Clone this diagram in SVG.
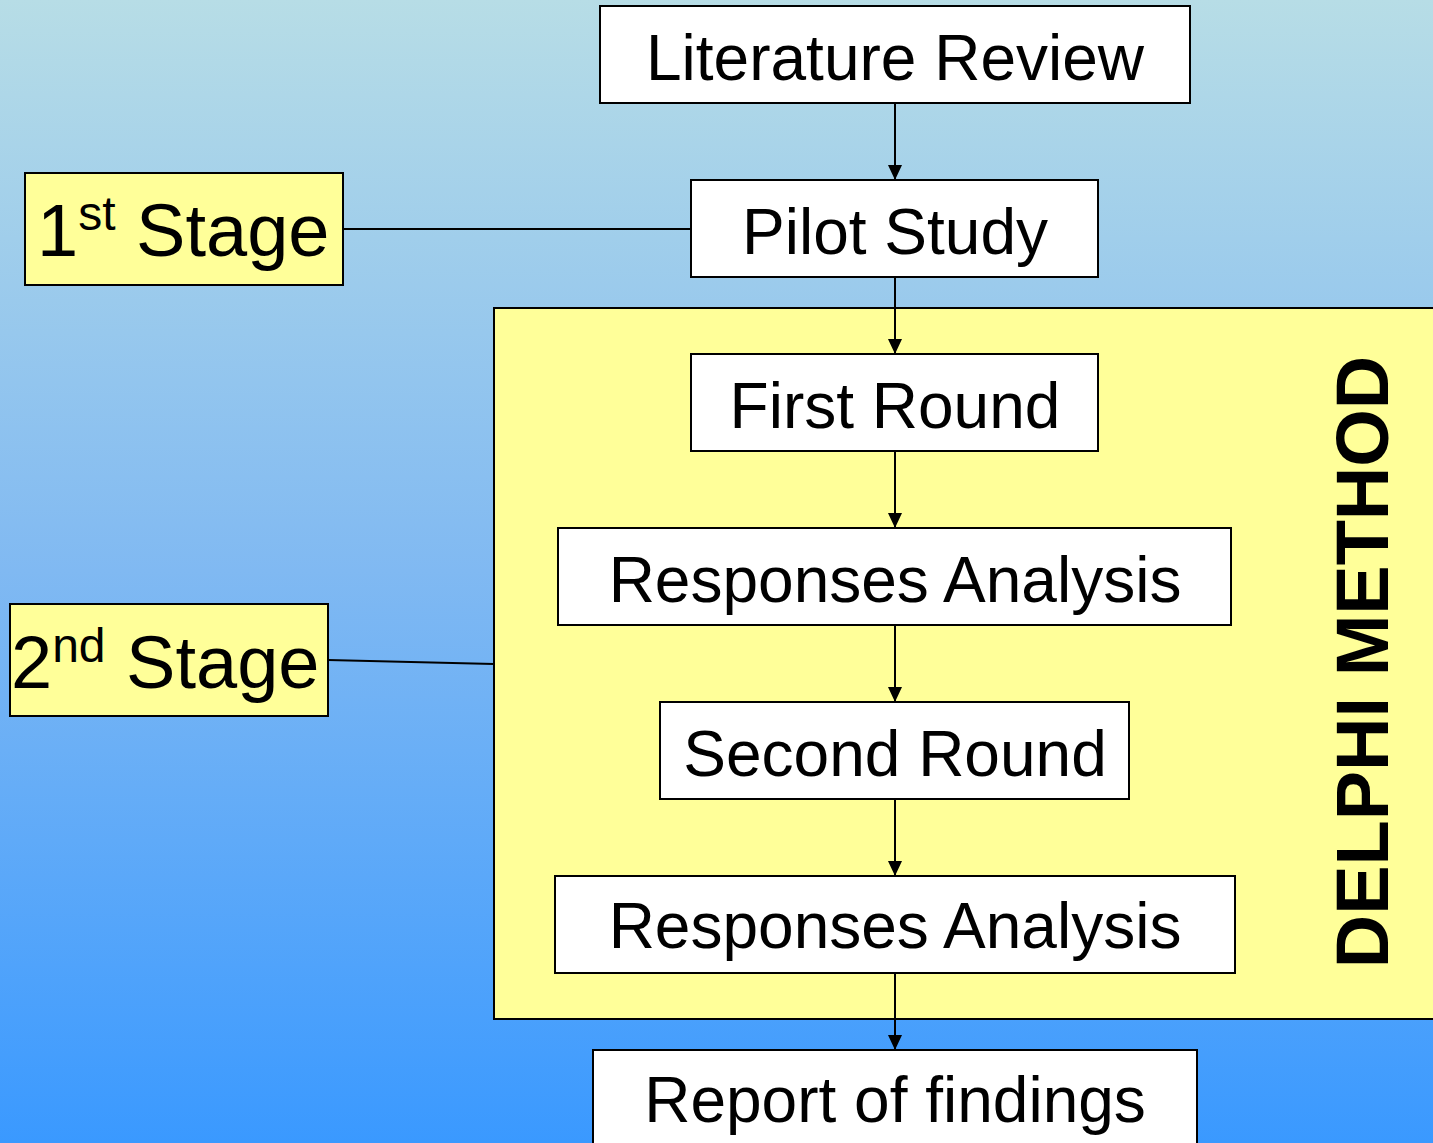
<svg xmlns="http://www.w3.org/2000/svg" width="1433" height="1143" viewBox="0 0 1433 1143">
<defs>
<linearGradient id="bg" x1="0" y1="0" x2="0" y2="1">
<stop offset="0" stop-color="#b7dde6"/>
<stop offset="0.5" stop-color="#80b9f2"/>
<stop offset="1" stop-color="#3a99ff"/>
</linearGradient>
<marker id="ah" viewBox="0 0 15 14" refX="15" refY="7" markerWidth="15" markerHeight="14" markerUnits="userSpaceOnUse" orient="auto">
<path d="M0,0 L15,7 L0,14 Z" fill="#000"/>
</marker>
<style>
.box{fill:#fff;stroke:#000;stroke-width:2}
.ybox{fill:#ffff99;stroke:#000;stroke-width:2}
.t{font-family:"Liberation Sans",Arial,sans-serif;font-size:64px;fill:#000;text-anchor:middle}
.st{font-family:"Liberation Sans",Arial,sans-serif;font-size:74px;fill:#000}
.c{stroke:#000;stroke-width:2;fill:none}
</style>
</defs>
<rect width="1433" height="1143" fill="url(#bg)"/>
<g id="delphi">
<rect class="ybox" x="494" y="308" width="945" height="711"/>
<text transform="translate(1388,662) rotate(-90)" font-family="Liberation Sans,Arial,sans-serif" font-weight="bold" font-size="74" text-anchor="middle">DELPHI METHOD</text>
</g>
<g id="connectors">
<line class="c" x1="895" y1="103" x2="895" y2="180" marker-end="url(#ah)"/>
<line class="c" x1="895" y1="277" x2="895" y2="354" marker-end="url(#ah)"/>
<line class="c" x1="895" y1="451" x2="895" y2="528" marker-end="url(#ah)"/>
<line class="c" x1="895" y1="625" x2="895" y2="702" marker-end="url(#ah)"/>
<line class="c" x1="895" y1="799" x2="895" y2="876" marker-end="url(#ah)"/>
<line class="c" x1="895" y1="973" x2="895" y2="1050" marker-end="url(#ah)"/>
<line class="c" x1="343" y1="229" x2="691" y2="229"/>
<line class="c" x1="328" y1="660" x2="494" y2="664"/>
</g>
<g id="literature-review">
<rect class="box" x="600" y="6" width="590" height="97"/>
<text class="t" x="895" y="80">Literature Review</text>
</g>
<g id="pilot-study">
<rect class="box" x="691" y="180" width="407" height="97"/>
<text class="t" x="895" y="254">Pilot Study</text>
</g>
<g id="first-round">
<rect class="box" x="691" y="354" width="407" height="97"/>
<text class="t" x="895" y="428">First Round</text>
</g>
<g id="responses-analysis-1">
<rect class="box" x="558" y="528" width="673" height="97"/>
<text class="t" x="895" y="602">Responses Analysis</text>
</g>
<g id="second-round">
<rect class="box" x="660" y="702" width="469" height="97"/>
<text class="t" x="895" y="776">Second Round</text>
</g>
<g id="responses-analysis-2">
<rect class="box" x="555" y="876" width="680" height="97"/>
<text class="t" x="895" y="948">Responses Analysis</text>
</g>
<g id="report-of-findings">
<rect class="box" x="593" y="1050" width="604" height="100"/>
<text class="t" x="895" y="1122">Report of findings</text>
</g>
<g id="stage-1">
<rect class="ybox" x="25" y="173" width="318" height="112"/>
<text class="st" x="37" y="256">1<tspan font-size="48" dy="-26">st</tspan><tspan dy="26"> Stage</tspan></text>
</g>
<g id="stage-2">
<rect class="ybox" x="10" y="604" width="318" height="112"/>
<text class="st" x="11" y="688">2<tspan font-size="48" dy="-26">nd</tspan><tspan dy="26"> Stage</tspan></text>
</g>
</svg>
